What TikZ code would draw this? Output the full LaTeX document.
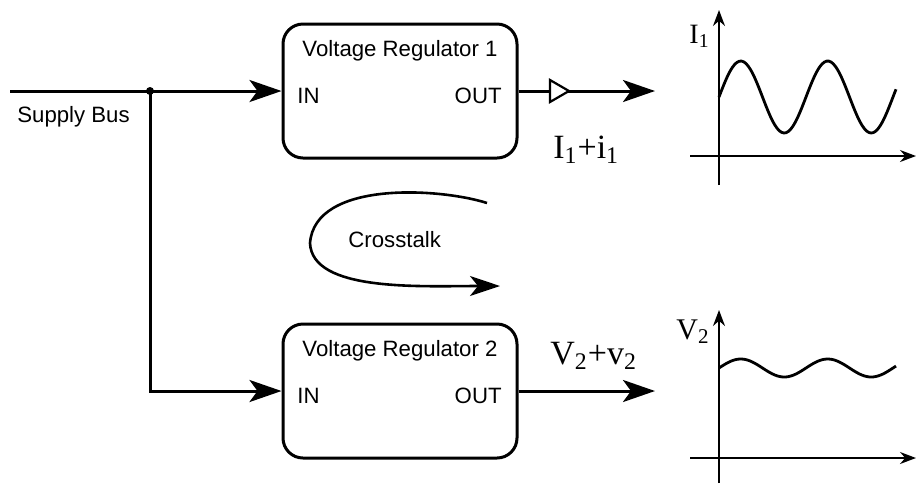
\documentclass[tikz,border=0pt]{standalone}
\usepackage{fontspec}
\setmainfont{Liberation Sans}
\newfontfamily\sigfont{Liberation Serif}
\usetikzlibrary{arrows.meta}

\begin{document}
\begin{tikzpicture}[x=0.5pt, y=-0.5pt,
  reg/.style = {draw, line width=1.5pt, rounded corners=10pt, minimum width=117pt, minimum height=67pt},
  wire/.style = {line width=1.5pt},
  feed/.style = {wire, -{Stealth[length=16pt, width=11pt, inset=4pt]}},
  axis/.style = {line width=0.9pt, -{Stealth[length=8pt, width=6pt]}},
  wave/.style = {line width=1.4pt, smooth},
  lbl/.style = {font=\fontsize{11.1}{13}\selectfont, inner sep=0pt},
  sig/.style = {font=\sigfont\fontsize{17}{20}\selectfont, inner sep=0pt, anchor=base west}]
  \useasboundingbox (0,0) rectangle (916,484);

  % regulators
  \node[reg] (reg1) at (400,91) {};
  \node[reg] (reg2) at (400,391) {};
  \node[lbl, anchor=base] (name1) at (400,56) {Voltage Regulator 1};
  \node[lbl, anchor=base west] (in1) at (297,103) {IN};
  \node[lbl, anchor=base east] (out1) at (502,103) {OUT};
  \node[lbl, anchor=base] (name2) at (400,356) {Voltage Regulator 2};
  \node[lbl, anchor=base west] (in2) at (297,403) {IN};
  \node[lbl, anchor=base east] (out2) at (502,403) {OUT};

  % supply bus
  \coordinate (bus) at (10,91);
  \coordinate (tap) at (150,91);
  \node[lbl, anchor=base west] (buslbl) at (17,122) {Supply Bus};
  \draw[feed] (bus) -- (reg1.west);
  \draw[feed] (tap) |- (reg2.west);
  \fill (tap) circle (4);

  % outputs
  \coordinate (out1end) at (655,91);
  \coordinate (out2end) at (655,391);
  \coordinate (buf) at (550,91);
  \draw[feed] (reg1.east) -- (out1end);
  \draw[line width=1.1pt, fill=white] (buf) ++(0,-11) -- ++(19,11) -- ++(-19,11) -- cycle;
  \draw[feed] (reg2.east) -- (out2end);
  \node[sig] (i1lbl) at (553,158) {I\textsubscript{1}+i\textsubscript{1}};
  \node[sig] (v2lbl) at (550,364) {V\textsubscript{2}+v\textsubscript{2}};

  % crosstalk
  \coordinate (xt0) at (487,203);
  \coordinate (xt1) at (500,286);
  \draw[line width=1.3pt, -{Stealth[length=15pt, width=10pt, inset=4pt]}] (xt0) .. controls (440,188) and (315,180) .. (310,243) .. controls (312,292) and (420,286) .. (xt1);
  \node[lbl, anchor=base west] (xtlbl) at (348,247) {Crosstalk};

  % current plot
  \draw[axis] (690,156) -- (916,156);
  \draw[axis] (719,185) -- (719,10);
  \draw[wave] plot[domain=719:896, samples=80] (\x, {97-36*sin(4.138*(\x-719))});
  \node[sig, font=\sigfont\fontsize{14}{16}\selectfont, anchor=base east] (i1ax) at (710,43) {I\textsubscript{1}};

  % voltage plot
  \draw[axis] (690,458) -- (916,458);
  \draw[axis] (719,483) -- (719,310);
  \draw[wave] plot[domain=719:896, samples=80] (\x, {368-9*sin(4.138*(\x-719))});
  \node[sig, font=\sigfont\fontsize{15}{17}\selectfont, anchor=base east] (v2ax) at (710,339) {V\textsubscript{2}};
\end{tikzpicture}
\end{document}
